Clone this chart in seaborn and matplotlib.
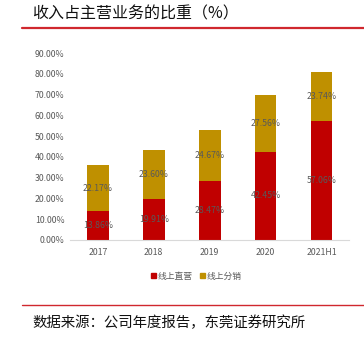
import matplotlib
matplotlib.use("Agg")
import matplotlib.pyplot as plt
from matplotlib.patches import Patch
from matplotlib.lines import Line2D
import seaborn as sns
import pandas as pd

categories = ["2017", "2018", "2019", "2020", "2021H1"]
direct = [13.86, 19.91, 28.47, 42.45, 57.06]
distrib = [22.17, 23.60, 24.67, 27.56, 23.74]
yticks = [0, 10, 20, 30, 40, 50, 60, 70, 80, 90]
series_names = ["线上直营", "线上分销"]

RED = "#C00000"
GOLD = "#BF9000"

sns.set_theme(style="white")
plt.rcParams["font.family"] = ["Noto Sans CJK SC", "DejaVu Sans"]

df = pd.DataFrame({"cat": categories, "direct": direct,
                   "total": [a + b for a, b in zip(direct, distrib)]})

fig = plt.figure(figsize=(3.64, 3.38), dpi=100)
ax = fig.add_axes([0.192, 0.29, 0.768, 0.553])

sns.barplot(data=df, x="cat", y="total", color=GOLD, width=0.39,
            saturation=1, ax=ax, linewidth=0)
sns.barplot(data=df, x="cat", y="direct", color=RED, width=0.39,
            saturation=1, ax=ax, linewidth=0)

for i, (d, s) in enumerate(zip(direct, distrib)):
    ax.text(i, d / 2, f"{d:.2f}%", ha="center", va="center",
            fontsize=6.3, color="#595959")
    ax.text(i, d + s / 2, f"{s:.2f}%", ha="center", va="center",
            fontsize=6.3, color="#595959")

ax.set_xlim(-0.5, 4.5)
ax.set_ylim(0, 90)
ax.set_yticks(yticks)
ax.set_yticklabels([f"{v:.2f}%" for v in yticks], fontsize=6.3, color="#595959")
ax.tick_params(axis="x", labelsize=6.3, colors="#595959", length=0, pad=6)
ax.tick_params(axis="y", length=0, pad=4)
ax.set_xlabel("")
ax.set_ylabel("")
for sp in ["left", "right", "top"]:
    ax.spines[sp].set_visible(False)
ax.spines["bottom"].set_color("#D9D9D9")
ax.spines["bottom"].set_linewidth(0.8)

handles = [Patch(color=RED), Patch(color=GOLD)]
fig.legend(handles, series_names, loc="center", bbox_to_anchor=(0.54, 0.183),
           ncol=2, frameon=False, fontsize=6.3, handlelength=0.6,
           handleheight=0.6, handletextpad=0.2, columnspacing=0.8,
           labelcolor="#595959")

fig.text(0.088, 0.958, "收入占主营业务的比重（%）", fontsize=11.5,
         ha="left", va="center", color="#111111")
fig.add_artist(Line2D([0.06, 1.0], [0.917, 0.917], color="#D0282E",
                      linewidth=1.6, transform=fig.transFigure))
fig.add_artist(Line2D([0.06, 1.0], [0.098, 0.098], color="#D0282E",
                      linewidth=1.0, transform=fig.transFigure))
fig.text(0.088, 0.046, "数据来源：公司年度报告，东莞证券研究所", fontsize=10.4,
         ha="left", va="center", color="#111111")

fig.savefig("out.png", dpi=100)
